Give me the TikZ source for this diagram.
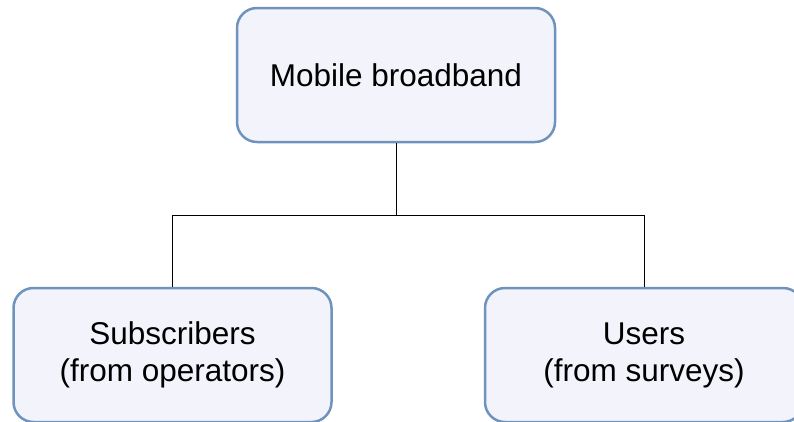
\documentclass[tikz,border=0pt]{standalone}
\usepackage{fontspec}
\setmainfont{Liberation Sans}
\usepackage{tikz}
\definecolor{boxfill}{RGB}{243,243,252}
\definecolor{boxline}{RGB}{110,148,190}

\begin{document}
\begin{tikzpicture}[x=1pt,y=1pt,
        box/.style={draw=boxline,fill=boxfill,line width=2.5pt,rounded corners=20pt,
            minimum width=318pt,minimum height=134pt,align=center,
            font=\fontsize{31.5pt}{37pt}\selectfont},
        link/.style={draw=black,line width=1pt}]
                \useasboundingbox (0,0) rectangle (794,-421);
                \clip (0,0) rectangle (794,-421);

                \node[box] (mobile) at(396,-75) {Mobile broadband};
                \node[box] (subs) at(172.5,-355) {Subscribers\\(from operators)};
                \node[box] (users) at(644,-355) {Users\\(from surveys)};

                \coordinate (bus) at(396,-215);
                \draw[link] (mobile.south)--(bus);
                \draw[link] (bus)-|(subs.north);
                \draw[link] (bus)-|(users.north);
            \end{tikzpicture}
\end{document}
